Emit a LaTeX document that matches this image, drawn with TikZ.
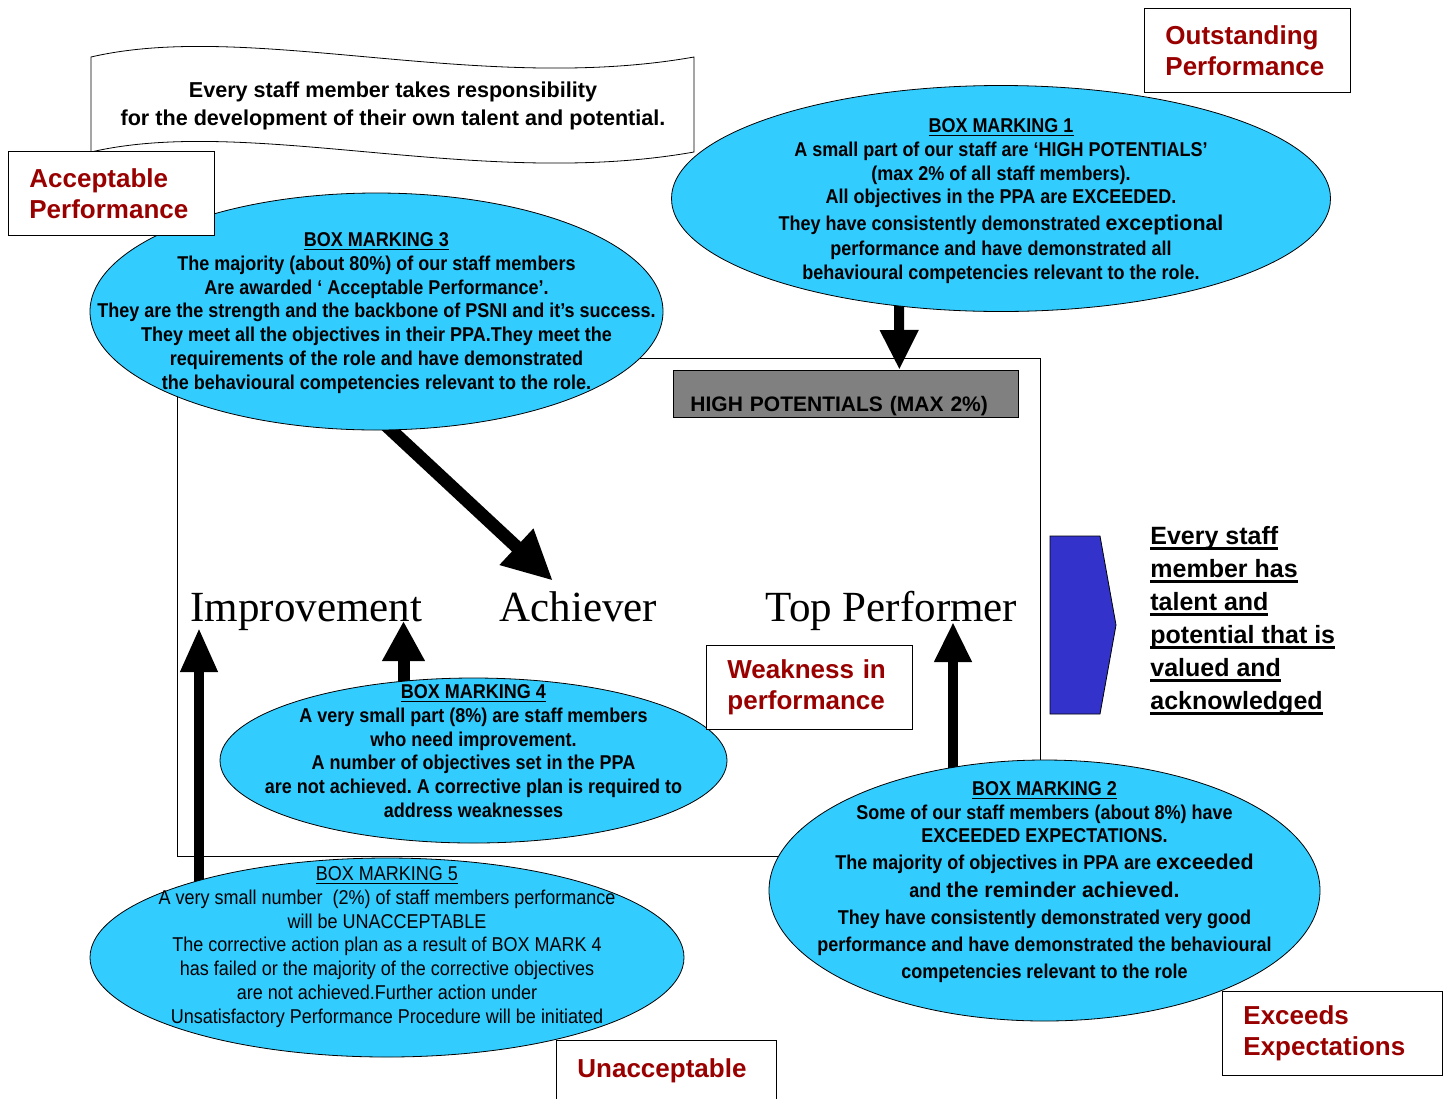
\documentclass[tikz,border=0pt]{standalone}
\usepackage{fontspec}
\setmainfont{Liberation Sans}
\newfontfamily\narrowfont[FakeStretch=0.9]{Liberation Sans}
\newfontfamily\wideface{Liberation Sans}
\newfontfamily\romanfont{Liberation Serif}
\usetikzlibrary{shapes.geometric, arrows.meta, backgrounds}
\definecolor{skyblue}{HTML}{33CCFF}
\definecolor{ratingred}{HTML}{990000}
\definecolor{royal}{HTML}{3333CC}
\definecolor{potgray}{HTML}{808080}
\newcommand{\barunder}[1]{\setbox0=\hbox{#1}\rlap{\rule[-2.6pt]{\wd0}{1.4pt}}\box0}
\newcommand{\widebold}[1]{{\wideface\bfseries\fontsize{10.7}{11.85}\selectfont #1}}
\frenchspacing

\begin{document}
\begin{tikzpicture}[x=0.5pt, y=-0.5pt,
  oval/.style={ellipse, draw, fill=skyblue, inner sep=0pt},
  ovaltext/.style={align=center, inner sep=0pt, font=\narrowfont\bfseries\fontsize{10}{11.85}\selectfont},
  rating/.style={draw, fill=white, anchor=north west, align=left, inner xsep=10.5pt, minimum height=42pt, text=ratingred, font=\bfseries\fontsize{13}{15.5}\selectfont},
  bigword/.style={anchor=base, inner sep=0pt, font=\romanfont\fontsize{21.5}{24}\selectfont},
  blockarrow/.style={line width=5pt, -{Triangle[length=20pt, width=18pt]}}]
\useasboundingbox (0,0) rectangle (1449,1098);
\clip (0,0) rectangle (1449,1098);

\filldraw[fill=white] (91,57) .. controls (250,20) and (480,95) .. (694,57) -- (694,152) .. controls (480,190) and (250,115) .. (91,152) -- cycle;
\node[align=center, font=\bfseries\fontsize{10.8}{14}\selectfont] (motto) at (393,106) {Every staff member takes responsibility\\for the development of their own talent and potential.};

\node[draw, anchor=north west, inner sep=0pt, minimum width=431.5pt, minimum height=249pt] (frame) at (177,358) {};
\node[draw, fill=potgray, anchor=north west, align=left, inner xsep=8.5pt, inner ysep=0pt, text width=155.5pt, text height=20.5pt, text depth=3pt, font=\bfseries\fontsize{10.5}{12}\selectfont] (hp) at (673,370) {HIGH POTENTIALS (MAX 2\%)};

\node[bigword] (imp) at (306.5,621) {Improvement};
\node[bigword] (ach) at (578.5,621) {Achiever};
\node[bigword] (topp) at (891.5,621) {Top Performer};

\node[oval, minimum width=329.5pt, minimum height=113pt] (bm1) at (1001,198.5) {};
\node[oval, minimum width=286.5pt, minimum height=118.5pt] (bm3) at (376.5,311.5) {};
\node[oval, minimum width=253.5pt, minimum height=82.5pt] (bm4) at (473.5,760.5) {};
\node[oval, minimum width=275.5pt, minimum height=130.5pt] (bm2) at (1044.5,890.5) {};
\node[oval, minimum width=297pt, minimum height=99.5pt] (bm5) at (387,957.5) {};

\begin{scope}[on background layer]
\draw[blockarrow] ([xshift=-51pt, yshift=10pt]bm1.south) -- ([xshift=26.75pt]hp.north);
\draw[blockarrow, line width=6.5pt, -{Triangle[length=25pt, width=23pt]}] ([xshift=0.5pt, yshift=6.5pt]bm3.south) -- ([xshift=-12.75pt, yshift=5pt]ach.north);
\draw[blockarrow, line width=6pt, -{Triangle[length=20pt, width=20pt]}] ([xshift=-35pt, yshift=-10pt]bm4.north) -- ([xshift=48.5pt]imp.base);
\draw[blockarrow, -{Triangle[length=22pt, width=17.5pt]}] ([xshift=-94pt, yshift=-20pt]bm5.north) -- ([xshift=-53.75pt, yshift=-3.5pt]imp.base);
\draw[blockarrow, -{Triangle[length=20pt, width=17.5pt]}] ([xshift=-45.75pt, yshift=-10pt]bm2.north) -- ([xshift=30.75pt, yshift=-0.5pt]topp.base);
\end{scope}

\node[ovaltext] (bm1t) at (1001,201) {\underline{BOX MARKING 1}\\
A small part of our staff are ‘HIGH POTENTIALS’\\
(max 2\% of all staff members).\\
All objectives in the PPA are EXCEEDED.\\[1.6pt]
They have consistently demonstrated \widebold{exceptional}\\[0.6pt]
performance and have demonstrated all\\
behavioural competencies relevant to the role.};
\node[ovaltext] (bm3t) at (376.5,313) {\underline{BOX MARKING 3}\\
The majority (about 80\%) of our staff members\\
Are awarded ‘ Acceptable Performance’.\\
They are the strength and the backbone of PSNI and it’s success.\\
They meet all the objectives in their PPA.They meet the\\
requirements of the role and have demonstrated\\
the behavioural competencies relevant to the role.};
\node[ovaltext] (bm4t) at (473.5,751) {\underline{BOX MARKING 4}\\
A very small part (8\%) are staff members\\
who need improvement.\\
A number of objectives set in the PPA\\
are not achieved. A corrective plan is required to\\
address weaknesses};
\node[ovaltext] (bm2t) at (1044.5,882) {\underline{BOX MARKING 2}\\
Some of our staff members (about 8\%) have\\
EXCEEDED EXPECTATIONS.\\[1.7pt]
The majority of objectives in PPA are \widebold{exceeded}\\[1.7pt]
and \widebold{the reminder achieved.}\\[1.7pt]
They have consistently demonstrated very good\\[1.7pt]
performance and have demonstrated the behavioural\\[1.7pt]
competencies relevant to the role};
\node[ovaltext, font=\narrowfont\fontsize{10}{11.9}\selectfont] (bm5t) at (387,947) {\underline{BOX MARKING 5}\\
A very small number\ \ (2\%) of staff members performance\\
will be UNACCEPTABLE\\
The corrective action plan as a result of BOX MARK 4\\
has failed or the majority of the corrective objectives\\
are not achieved.Further action under\\
Unsatisfactory Performance Procedure will be initiated};

\filldraw[fill=royal] (1050,536) -- (1100,536) -- (1116,625) -- (1100,714) -- (1050,714) -- cycle;
\node[anchor=west, align=left, inner sep=0pt, font=\bfseries\fontsize{12.5}{16.5}\selectfont] (valued) at (1150,621) {\barunder{Every staff}\\\barunder{member has}\\\barunder{talent and}\\\barunder{potential that is}\\\barunder{valued and}\\\barunder{acknowledged}};

\node[rating, text width=82pt] (accp) at (8,151) {Acceptable\\Performance};
\node[rating, text width=82pt] (outs) at (1144,8) {Outstanding\\Performance};
\node[rating, text width=82pt] (weak) at (706,645) {Weakness in\\performance};
\node[rating, text width=89pt] (exce) at (1222,991) {Exceeds\\Expectations};
\node[rating, text width=89pt, minimum height=0pt, inner ysep=0pt, text height=18.5pt, text depth=20pt] (unac) at (556,1040) {Unacceptable};
\end{tikzpicture}
\end{document}
